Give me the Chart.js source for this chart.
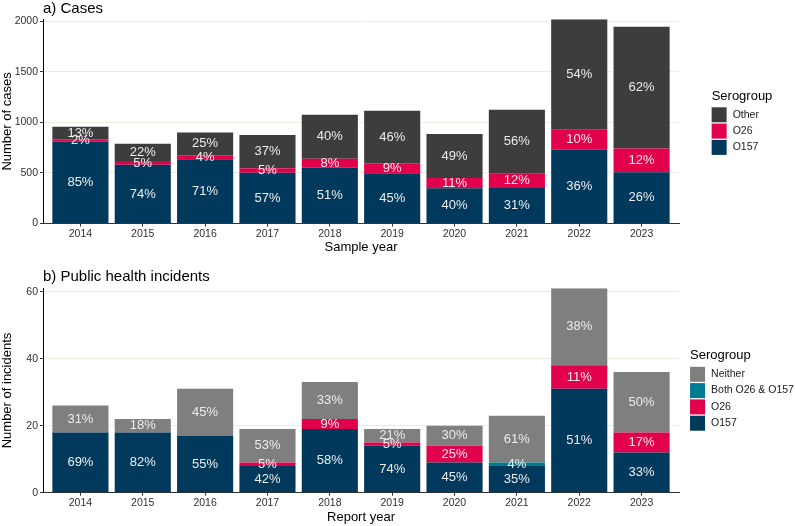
<!DOCTYPE html>
<html>
<head>
<meta charset="utf-8">
<script src="https://cdn.jsdelivr.net/npm/chart.js@4.4.0/dist/chart.umd.min.js"></script>
<style>
  html, body { margin: 0; padding: 0; background: #fff; }
  #wrap { position: relative; width: 795px; height: 526px; }
  #casesChart { position: absolute; left: 0; top: 0; }
  #incChart { position: absolute; left: 0; top: 256px; }
</style>
</head>
<body>
<div id="wrap">
  <canvas id="casesChart" width="795" height="256"></canvas>
  <canvas id="incChart" width="795" height="270"></canvas>
</div>
<script>
// Years on both panels
const years = [2014, 2015, 2016, 2017, 2018, 2019, 2020, 2021, 2022, 2023];

// a) Cases by sample year
const casesO157  = [810, 580, 635, 502, 552, 497, 350, 352, 728, 508];
const casesO26   = [22, 38, 40, 45, 89, 100, 100, 140, 198, 234];
const casesOther = [124, 170, 225, 327, 433, 516, 434, 631, 1091, 1202];
const casesTicks = [0, 500, 1000, 1500, 2000];

// b) Public health incidents by report year
const incO157    = [18, 18, 17, 8, 19, 14, 9, 8, 31, 12];
const incO26     = [0, 0, 0, 1, 3, 1, 5, 0, 7, 6];
const incBoth    = [0, 0, 0, 0, 0, 0, 0, 1, 0, 0];
const incNeither = [8, 4, 14, 10, 11, 4, 6, 14, 23, 18];
const incTicks   = [0, 20, 40, 60];

const FONT = '"Liberation Sans", Arial, Helvetica, sans-serif';
const NAVY = '#00395B', RED = '#E2004C', DARK = '#3D3D3D', GREY = '#7F7F7F', TEAL = '#007C92';

function pts(arr) {
  return arr.map((v, i) => ({ x: years[i], y: v }));
}

// percentage text in the middle of every segment
const pctLabels = {
  id: 'pctLabels',
  afterDatasetsDraw(chart) {
    const ctx = chart.ctx;
    const sets = chart.data.datasets;
    ctx.save();
    ctx.font = '13px ' + FONT;
    ctx.fillStyle = '#ececec';
    ctx.textAlign = 'center';
    ctx.textBaseline = 'middle';
    sets.forEach((ds, i) => {
      const meta = chart.getDatasetMeta(i);
      meta.data.forEach((bar, j) => {
        const v = ds.data[j].y;
        if (!v) return;
        const total = sets.reduce((s, d) => s + d.data[j].y, 0);
        ctx.fillText(Math.round(v / total * 100) + '%', bar.x, (bar.y + bar.base) / 2);
      });
    });
    ctx.restore();
  }
};

// ggplot-like legend on the right
const sideLegend = {
  id: 'sideLegend',
  afterDraw(chart, args, opts) {
    const ctx = chart.ctx;
    const items = chart.data.datasets.slice().reverse();
    ctx.save();
    ctx.font = '13px ' + FONT;
    const titleW = ctx.measureText('Serogroup').width;
    ctx.font = '10.5px ' + FONT;
    const labW = Math.max(...items.map(d => ctx.measureText(d.label).width));
    const w = Math.max(titleW, 21 + labW);
    const x0 = opts.centerX - w / 2;
    ctx.textAlign = 'left';
    ctx.textBaseline = 'middle';
    ctx.fillStyle = '#000';
    ctx.font = '13px ' + FONT;
    ctx.fillText('Serogroup', x0, opts.titleY);
    ctx.font = '10.5px ' + FONT;
    items.forEach((ds, k) => {
      const y = opts.titleY + 11.3 + k * 16.3;
      ctx.fillStyle = ds.backgroundColor;
      ctx.fillRect(x0, y, 15, 15);
      ctx.fillStyle = '#1a1a1a';
      ctx.fillText(ds.label, x0 + 21, y + 7.5);
    });
    ctx.restore();
  }
};

function makeOptions(cfg) {
  return {
    responsive: false,
    animation: false,
    layout: { padding: { left: 0, right: 116, top: 0, bottom: 0 } },
    plugins: {
      legend: { display: false },
      tooltip: { enabled: false },
      title: {
        display: true,
        text: cfg.title,
        align: 'start',
        fullSize: false,
        color: '#000',
        font: { family: FONT, size: 15, weight: 'normal', lineHeight: 1.2 },
        padding: cfg.titlePad
      },
      sideLegend: { centerX: 742, titleY: cfg.legendY }
    },
    scales: {
      x: {
        type: 'linear',
        stacked: true,
        offset: false,
        min: 2013.4,
        max: 2023.6,
        afterBuildTicks: s => { s.ticks = years.map(v => ({ value: v })); },
        afterFit: s => { s.height = cfg.xHeight; },
        grid: { offset: false, drawOnChartArea: false, drawTicks: true, tickLength: 3, tickColor: '#333' },
        border: { display: true, color: '#333', width: 1 },
        ticks: {
          autoSkip: false, maxRotation: 0, padding: 1,
          color: '#303030', font: { family: FONT, size: 10.5 },
          callback: v => String(v)
        },
        title: {
          display: true, text: cfg.xTitle, color: '#000',
          font: { family: FONT, size: 13, lineHeight: 1.2 },
          padding: { top: 0, bottom: 0.5 }
        }
      },
      y: {
        stacked: true,
        min: 0,
        max: cfg.yMax,
        afterBuildTicks: s => { s.ticks = cfg.yTicks.map(v => ({ value: v })); },
        afterFit: s => { s.width = 43; },
        grid: { color: '#ededdf', lineWidth: 1, drawTicks: true, tickLength: 3, tickColor: '#333' },
        border: { display: true, color: '#000', width: 1 },
        ticks: {
          padding: 2, color: '#303030', font: { family: FONT, size: 10.5 },
          callback: v => String(v)
        },
        title: {
          display: true, text: cfg.yTitle, color: '#000',
          font: { family: FONT, size: 13, lineHeight: 1.2 },
          padding: { top: 0, bottom: 0 }
        }
      }
    }
  };
}

function bar(label, data, color) {
  return {
    label: label,
    data: pts(data),
    backgroundColor: color,
    borderWidth: 0,
    categoryPercentage: 1,
    barPercentage: 0.9
  };
}

new Chart(document.getElementById('casesChart'), {
  type: 'bar',
  data: {
    datasets: [
      bar('O157', casesO157, NAVY),
      bar('O26', casesO26, RED),
      bar('Other', casesOther, DARK)
    ]
  },
  options: makeOptions({
    title: 'a) Cases',
    titlePad: { top: 0, bottom: 1.3 },
    xTitle: 'Sample year',
    yTitle: 'Number of cases',
    yMax: 2017,
    yTicks: casesTicks,
    xHeight: 32.4,
    legendY: 96
  }),
  plugins: [pctLabels, sideLegend]
});

new Chart(document.getElementById('incChart'), {
  type: 'bar',
  data: {
    datasets: [
      bar('O157', incO157, NAVY),
      bar('O26', incO26, RED),
      bar('Both O26 & O157', incBoth, TEAL),
      bar('Neither', incNeither, GREY)
    ]
  },
  options: makeOptions({
    title: 'b) Public health incidents',
    titlePad: { top: 12, bottom: 2.3 },
    xTitle: 'Report year',
    yTitle: 'Number of incidents',
    yMax: 61,
    yTicks: incTicks,
    xHeight: 33.3,
    legendY: 99.5
  }),
  plugins: [pctLabels, sideLegend]
});
</script>
</body>
</html>
